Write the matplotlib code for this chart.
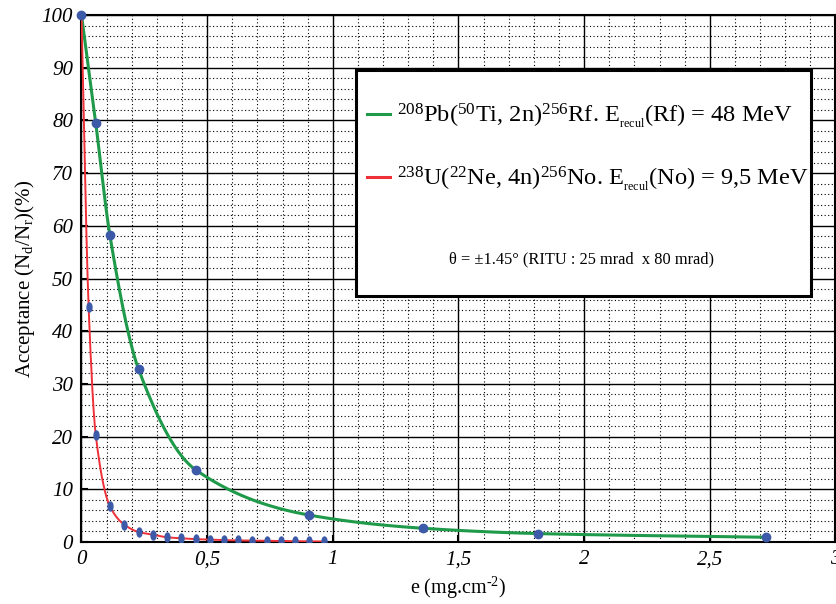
import numpy as np
import matplotlib
matplotlib.use("Agg")
import matplotlib.pyplot as plt
from matplotlib.patches import Rectangle
from matplotlib.path import Path
from matplotlib.lines import Line2D
from matplotlib.transforms import Affine2D

plt.rcParams["font.family"] = ["Liberation Serif", "DejaVu Serif"]
plt.rcParams["mathtext.fontset"] = "custom"
plt.rcParams["mathtext.rm"] = "Liberation Serif"
plt.rcParams["mathtext.it"] = "Liberation Serif:italic"

# 208Pb(50Ti,2n)256Rf : acceptance vs target thickness
rf_thickness = [0.0, 0.0567, 0.113, 0.227, 0.454, 0.907, 1.36, 1.815, 2.723]
rf_accept = [100.0, 79.5, 58.2, 32.8, 13.7, 5.1, 2.6, 1.6, 0.9]

# 238U(22Ne,4n)256No
no_thickness = [0.0, 0.0283, 0.0567, 0.113, 0.170, 0.227, 0.284, 0.340, 0.397,
                0.454, 0.510, 0.567, 0.624, 0.680, 0.737, 0.794, 0.851, 0.907, 0.964]
no_accept = [100.0, 44.6, 20.3, 6.8, 3.3, 1.9, 1.4, 0.9, 0.7,
             0.55, 0.45, 0.35, 0.3, 0.25, 0.2, 0.2, 0.15, 0.12, 0.1]

x_ticks = [0, 0.5, 1, 1.5, 2, 2.5, 3]
x_ticklabels = ["0", "0,5", "1", "1,5", "2", "2,5", "3"]
y_ticks = list(range(0, 101, 10))

label_rf = r"$^{208}$Pb($^{50}$Ti, 2n)$^{256}$Rf. E$_{_{\mathrm{recul}}}$(Rf) = 48 MeV"
label_no = r"$^{238}$U($^{22}$Ne, 4n)$^{256}$No. E$_{_{\mathrm{recul}}}$(No) = 9,5 MeV"
note = "θ = ±1.45° (RITU : 25 mrad  x 80 mrad)"

GREEN = "#1e9a4a"
RED = "#ee3038"
BLUE = "#3d5aa8"


def pchip(x, y, n=400):
    """Monotone cubic (Fritsch-Carlson) curve through the given points."""
    x = np.asarray(x, float)
    y = np.asarray(y, float)
    h = np.diff(x)
    d = np.diff(y) / h
    m = np.zeros_like(y)
    for k in range(1, len(x) - 1):
        if d[k - 1] * d[k] > 0:
            w1 = 2 * h[k] + h[k - 1]
            w2 = h[k] + 2 * h[k - 1]
            m[k] = (w1 + w2) / (w1 / d[k - 1] + w2 / d[k])
    m[0] = d[0]
    m[-1] = d[-1]
    xs = np.linspace(x[0], x[-1], n)
    idx = np.clip(np.searchsorted(x, xs) - 1, 0, len(x) - 2)
    t = (xs - x[idx]) / h[idx]
    h00 = 2 * t**3 - 3 * t**2 + 1
    h10 = t**3 - 2 * t**2 + t
    h01 = -2 * t**3 + 3 * t**2
    h11 = t**3 - t**2
    ys = (h00 * y[idx] + h10 * h[idx] * m[idx]
          + h01 * y[idx + 1] + h11 * h[idx] * m[idx + 1])
    return xs, ys


fig = plt.figure(figsize=(8.37, 6.04), dpi=100)
ax = fig.add_axes([81.5 / 837, 62 / 604, 754 / 837, 527 / 604])

ax.set_xlim(0, 3)
ax.set_ylim(0, 100)

ax.set_xticks(x_ticks)
ax.set_xticklabels(x_ticklabels)
ax.set_yticks(y_ticks)
ax.set_xticks(np.arange(0, 3.001, 0.1), minor=True)
ax.set_yticks(np.arange(0, 100.1, 2), minor=True)

ax.grid(which="major", color="black", linewidth=1.0, linestyle="-")
ax.grid(which="minor", color="black", linewidth=0.8, linestyle=(0, (1, 2.2)))
ax.set_axisbelow(True)

ax.tick_params(which="major", direction="in", length=5, width=1.5,
               labelsize=15, pad=6)
ax.tick_params(which="minor", length=0)
for lab in ax.get_xticklabels() + ax.get_yticklabels():
    lab.set_fontstyle("italic")
for sp in ax.spines.values():
    sp.set_linewidth(1.5)

# curves
xs, ys = pchip(rf_thickness, rf_accept)
ax.plot(xs, ys, color=GREEN, linewidth=2.2, zorder=3)
xs, ys = pchip(no_thickness, no_accept)
ax.plot(xs, ys, color=RED, linewidth=1.4, zorder=3)

# data points
ell = Path.unit_circle().transformed(Affine2D().scale(0.55, 1.0))
ax.plot(no_thickness[1:], no_accept[1:], linestyle="none", marker=ell,
        markersize=6.5, color=BLUE, zorder=4)
ax.plot(rf_thickness, rf_accept, linestyle="none", marker="o",
        markersize=6, color=BLUE, zorder=5, clip_on=False)

ax.set_xlabel(r"e (mg.cm$^{\text{-2}}$)", fontsize=14.5, labelpad=4)
ax.set_ylabel(r"Acceptance (N$_{\mathrm{d}}$/N$_{\mathrm{r}}$)(%)",
              fontsize=15, labelpad=3)

# legend box
box = Rectangle((0.364, 0.4668), 0.6035, 0.4288, transform=ax.transAxes,
                facecolor="white", edgecolor="black", linewidth=2.2, zorder=6)
ax.add_patch(box)
leg = ax.legend([Line2D([], [], color=GREEN, linewidth=2.2),
                 Line2D([], [], color=RED, linewidth=2.2)],
                [label_rf, label_no],
                loc="upper left", bbox_to_anchor=(0.378, 0.836),
                frameon=False, fontsize=17.6, handlelength=0.95,
                handletextpad=0.3, labelspacing=1.4, borderpad=0,
                borderaxespad=0)
leg.set_zorder(7)
ax.text(0.6636, 0.5370, note, transform=ax.transAxes, fontsize=11.8,
        ha="center", va="center", zorder=7)

fig.savefig("out.png", dpi=100)
